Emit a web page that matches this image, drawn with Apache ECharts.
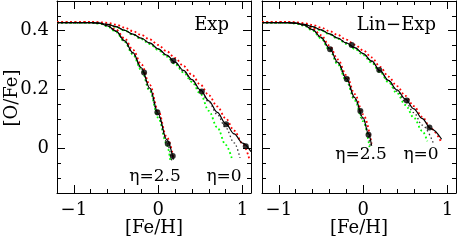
<!DOCTYPE html>
<html><head><meta charset="utf-8">
<script src="https://cdn.jsdelivr.net/npm/echarts@6/dist/echarts.min.js"></script>
<style>html,body{margin:0;padding:0;background:#fff}#c{width:457px;height:240px}</style>
</head><body><div id="c"></div>
<script>
// ---- tick values ----
const xMajor = [-1, 0, 1];
const xMinor = [-0.8, -0.6, -0.4, -0.2, 0.2, 0.4, 0.6, 0.8];
const yMajor = [0, 0.2, 0.4];
const yMinor = [-0.1, -0.05, 0.05, 0.1, 0.15, 0.25, 0.3, 0.35, 0.45];
const panelTitles = ['Exp', 'Lin−Exp'];

// ---- Exp panel ----
const expHiSolid = [[-1.2,0.427],[-0.8,0.427],[-0.7,0.425],[-0.6,0.416],[-0.5,0.398],[-0.4,0.366],[-0.3,0.325],[-0.2,0.274],[-0.1,0.205],[0.0,0.118],[0.1,0.031],[0.18,-0.037]];
const expHiGreen = [[-1.2,0.427],[-0.8,0.427],[-0.7,0.424],[-0.6,0.414],[-0.5,0.395],[-0.4,0.362],[-0.3,0.319],[-0.2,0.266],[-0.1,0.195],[0.0,0.105],[0.1,0.017],[0.145,-0.043]];
const expHiRed = [[-1.2,0.428],[-0.8,0.429],[-0.7,0.427],[-0.6,0.419],[-0.5,0.403],[-0.4,0.374],[-0.3,0.335],[-0.2,0.286],[-0.1,0.216],[0.0,0.128],[0.1,0.04],[0.18,-0.028]];
const expHiDot = [[-1.2,0.427],[-0.8,0.427],[-0.7,0.425],[-0.6,0.415],[-0.5,0.397],[-0.4,0.364],[-0.3,0.322],[-0.2,0.27],[-0.1,0.2],[0.0,0.111],[0.1,0.024],[0.16,-0.04]];
const expHiPts = [[-0.168,0.258],[-0.01,0.123],[0.113,0.017],[0.172,-0.025]];

const expLoSolid = [[-1.2,0.427],[-0.8,0.427],[-0.7,0.425],[-0.6,0.421],[-0.5,0.413],[-0.4,0.401],[-0.3,0.388],[-0.2,0.374],[-0.1,0.358],[0.0,0.338],[0.1,0.317],[0.2,0.293],[0.3,0.265],[0.4,0.234],[0.5,0.199],[0.6,0.162],[0.7,0.123],[0.8,0.085],[0.9,0.05],[1.0,0.019],[1.1,-0.01]];
const expLoRed = [[-1.2,0.428],[-0.8,0.429],[-0.7,0.428],[-0.6,0.426],[-0.5,0.42],[-0.4,0.41],[-0.3,0.398],[-0.2,0.385],[-0.1,0.37],[0.0,0.351],[0.1,0.33],[0.2,0.307],[0.3,0.28],[0.4,0.25],[0.5,0.217],[0.6,0.181],[0.7,0.143],[0.8,0.103],[0.9,0.061],[1.0,0.018],[1.08,-0.035]];
const expLoGreen = [[-1.2,0.427],[-0.8,0.427],[-0.7,0.424],[-0.6,0.42],[-0.5,0.412],[-0.4,0.4],[-0.3,0.386],[-0.2,0.371],[-0.1,0.354],[0.0,0.334],[0.1,0.312],[0.2,0.286],[0.3,0.258],[0.4,0.226],[0.5,0.186],[0.6,0.128],[0.7,0.072],[0.8,0.013],[0.88,-0.04]];
const expLoDot = [[-1.2,0.427],[-0.8,0.427],[-0.7,0.425],[-0.6,0.421],[-0.5,0.413],[-0.4,0.401],[-0.3,0.387],[-0.2,0.373],[-0.1,0.357],[0.0,0.337],[0.1,0.315],[0.2,0.29],[0.3,0.262],[0.4,0.23],[0.5,0.196],[0.6,0.158],[0.7,0.116],[0.8,0.071],[0.9,0.02],[0.97,-0.031]];
const expLoPts = [[0.18,0.298],[0.516,0.194],[0.805,0.083],[1.038,0.008]];

// ---- Lin-Exp panel ----
const linHiSolid = [[-1.2,0.427],[-0.9,0.427],[-0.8,0.425],[-0.7,0.418],[-0.6,0.403],[-0.5,0.377],[-0.4,0.34],[-0.3,0.292],[-0.2,0.238],[-0.1,0.173],[0.0,0.104],[0.06,0.052],[0.1,0.01]];
const linHiGreen = [[-1.2,0.427],[-0.9,0.427],[-0.8,0.424],[-0.7,0.416],[-0.6,0.4],[-0.5,0.373],[-0.4,0.334],[-0.3,0.285],[-0.2,0.229],[-0.1,0.163],[0.0,0.093],[0.075,0.005]];
const linHiRed = [[-1.2,0.428],[-0.9,0.429],[-0.8,0.427],[-0.7,0.421],[-0.6,0.408],[-0.5,0.384],[-0.4,0.349],[-0.3,0.302],[-0.2,0.249],[-0.1,0.185],[0.0,0.116],[0.1,0.017]];
const linHiDot = [[-1.2,0.427],[-0.9,0.427],[-0.8,0.425],[-0.7,0.417],[-0.6,0.402],[-0.5,0.375],[-0.4,0.337],[-0.3,0.289],[-0.2,0.234],[-0.1,0.168],[0.0,0.098],[0.085,0.008]];
const linHiPts = [[-0.393,0.337],[-0.195,0.236],[-0.034,0.128],[0.063,0.047]];

const linLoSolid = [[-1.2,0.427],[-0.9,0.427],[-0.8,0.425],[-0.7,0.421],[-0.6,0.413],[-0.5,0.402],[-0.4,0.389],[-0.3,0.374],[-0.2,0.358],[-0.1,0.342],[0.0,0.322],[0.1,0.297],[0.2,0.264],[0.3,0.231],[0.4,0.199],[0.5,0.168],[0.6,0.135],[0.7,0.102],[0.8,0.068],[0.93,0.032]];
const linLoRed = [[-1.2,0.428],[-0.9,0.429],[-0.8,0.428],[-0.7,0.425],[-0.6,0.419],[-0.5,0.41],[-0.4,0.398],[-0.3,0.385],[-0.2,0.369],[-0.1,0.352],[0.0,0.333],[0.1,0.309],[0.2,0.277],[0.3,0.244],[0.4,0.212],[0.5,0.179],[0.6,0.144],[0.7,0.108],[0.8,0.069],[0.92,0.025]];
const linLoGreen = [[-1.2,0.427],[-0.9,0.427],[-0.8,0.424],[-0.7,0.42],[-0.6,0.412],[-0.5,0.4],[-0.4,0.387],[-0.3,0.372],[-0.2,0.355],[-0.1,0.338],[0.0,0.317],[0.1,0.291],[0.2,0.259],[0.3,0.225],[0.4,0.188],[0.5,0.148],[0.6,0.105],[0.7,0.06],[0.76,0.025]];
const linLoDot = [[-1.2,0.427],[-0.9,0.427],[-0.8,0.425],[-0.7,0.421],[-0.6,0.413],[-0.5,0.402],[-0.4,0.389],[-0.3,0.374],[-0.2,0.358],[-0.1,0.341],[0.0,0.321],[0.1,0.295],[0.2,0.262],[0.3,0.229],[0.4,0.195],[0.5,0.16],[0.6,0.122],[0.7,0.08],[0.83,0.02]];
const linLoPts = [[-0.136,0.351],[0.19,0.266],[0.516,0.163],[0.785,0.072]];

const etaLabels = ['η=2.5', 'η=0'];

// ---- build chart ----
const FONT = '"DejaVu Serif", serif';
const fmt = v => (v < 0 ? '−' + Math.abs(v) : (v === 0 ? '0' : String(v)));
const fmtY = v => (Math.abs(v) < 1e-9 ? '0' : v.toFixed(1));

function xAxes(g) {
  const base = {gridIndex: g, type: 'value', min: -1.2, max: 1.1, splitLine: {show: false}};
  const line = {show: true, onZero: false, lineStyle: {color: '#000', width: 1}};
  return [
    Object.assign({}, base, {position: 'bottom', axisLine: line,
      axisTick: {show: true, inside: true, length: 8, customValues: xMajor, lineStyle: {color: '#000'}},
      axisLabel: {show: true, customValues: xMajor, formatter: fmt, margin: 8, fontSize: 18, color: '#000', fontFamily: FONT}}),
    Object.assign({}, base, {position: 'bottom', axisLine: {show: false, onZero: false},
      axisTick: {show: true, inside: true, length: 4, customValues: xMinor, lineStyle: {color: '#000'}}, axisLabel: {show: false}}),
    Object.assign({}, base, {position: 'top', axisLine: line,
      axisTick: {show: true, inside: true, length: 8, customValues: xMajor, lineStyle: {color: '#000'}}, axisLabel: {show: false}}),
    Object.assign({}, base, {position: 'top', axisLine: {show: false, onZero: false},
      axisTick: {show: true, inside: true, length: 4, customValues: xMinor, lineStyle: {color: '#000'}}, axisLabel: {show: false}})
  ];
}
function yAxes(g) {
  const base = {gridIndex: g, type: 'value', min: -0.15, max: 0.5, splitLine: {show: false}};
  const line = {show: true, onZero: false, lineStyle: {color: '#000', width: 1}};
  return [
    Object.assign({}, base, {position: 'left', axisLine: line,
      axisTick: {show: true, inside: true, length: 8, customValues: yMajor, lineStyle: {color: '#000'}},
      axisLabel: {show: g === 0, customValues: yMajor, formatter: fmtY, margin: 8, fontSize: 18, color: '#000', fontFamily: FONT}}),
    Object.assign({}, base, {position: 'left', axisLine: {show: false, onZero: false},
      axisTick: {show: true, inside: true, length: 4, customValues: yMinor, lineStyle: {color: '#000'}}, axisLabel: {show: false}}),
    Object.assign({}, base, {position: 'right', axisLine: line,
      axisTick: {show: true, inside: true, length: 8, customValues: yMajor, lineStyle: {color: '#000'}}, axisLabel: {show: false}}),
    Object.assign({}, base, {position: 'right', axisLine: {show: false, onZero: false},
      axisTick: {show: true, inside: true, length: 4, customValues: yMinor, lineStyle: {color: '#000'}}, axisLabel: {show: false}})
  ];
}

function lineSeries(g, data, color, type, width, z) {
  return {type: 'line', xAxisIndex: g * 4, yAxisIndex: g * 4, data: data, showSymbol: false, symbol: 'none',
    smooth: 0.35, smoothMonotone: 'x', z: z, silent: true, animation: false,
    lineStyle: {color: color, width: width, type: type, cap: 'butt'}};
}
function ptSeries(g, data) {
  return {type: 'scatter', xAxisIndex: g * 4, yAxisIndex: g * 4, data: data, symbol: 'circle', symbolSize: 6,
    itemStyle: {color: '#000'}, z: 10, silent: true, animation: false};
}

const panels = [
  {solid: [expHiSolid, expLoSolid], red: [expHiRed, expLoRed], green: [expHiGreen, expLoGreen], dot: [expHiDot, expLoDot], pts: [expHiPts, expLoPts]},
  {solid: [linHiSolid, linLoSolid], red: [linHiRed, linLoRed], green: [linHiGreen, linLoGreen], dot: [linHiDot, linLoDot], pts: [linHiPts, linLoPts]}
];

const series = [];
panels.forEach((p, g) => {
  for (let k = 0; k < 2; k++) {
    series.push(lineSeries(g, p.green[k], '#00ff00', [1.8, 2.6], 1.8, 2));
    series.push(lineSeries(g, p.red[k], '#ff0000', [1.8, 2.6], 1.8, 3));
    series.push(lineSeries(g, p.dot[k], '#333', [1.5, 2.5], 1.3, 4));
    series.push(lineSeries(g, p.solid[k], '#000', 'solid', 1.2, 5));
    series.push(ptSeries(g, p.pts[k]));
  }
});

const txt = (x, y, text, align, size, extra) => Object.assign({type: 'text', x: x, y: y, z: 100,
  style: {text: text, fill: '#000', font: size + 'px ' + FONT, textAlign: align, textVerticalAlign: 'middle'}}, extra || {});

const chart = echarts.init(document.getElementById('c'), null, {renderer: 'canvas'});
chart.setOption({
  animation: false,
  grid: [
    {left: 57, top: 1, width: 194, height: 192},
    {left: 262, top: 1, width: 194, height: 192}
  ],
  xAxis: xAxes(0).concat(xAxes(1)),
  yAxis: yAxes(0).concat(yAxes(1)),
  series: series,
  graphic: [
    txt(229, 25, panelTitles[0], 'right', 18),
    txt(436, 25, panelTitles[1], 'right', 18),
    txt(155, 177, etaLabels[0], 'center', 17),
    txt(224, 177, etaLabels[1], 'center', 17),
    txt(361, 155, etaLabels[0], 'center', 17),
    txt(421, 155, etaLabels[1], 'center', 17),
    txt(154, 228, '[Fe/H]', 'center', 18),
    txt(359, 228, '[Fe/H]', 'center', 18),
    txt(12, 98, '[O/Fe]', 'center', 18, {rotation: Math.PI / 2})
  ]
});
</script></body></html>
